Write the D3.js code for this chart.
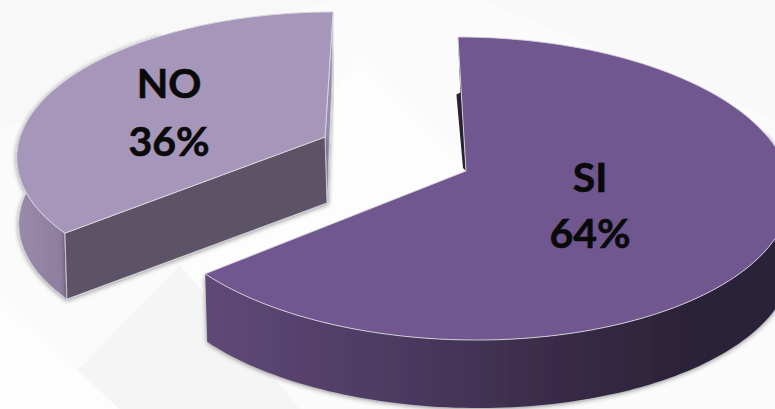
<!DOCTYPE html>
<html><head><meta charset="utf-8">
<script src="https://cdn.jsdelivr.net/npm/d3@7"></script>
<style>html,body{margin:0;padding:0;background:#fbfbfb;overflow:hidden}svg{display:block}</style>
</head><body><svg id="c" width="775" height="409"></svg>
<script>
const categories = ["SI", "NO"];
const values = [64, 36];
const labels = ["64%", "36%"];

const svg = d3.select("#c");
const defs = svg.append("defs");
const pie = d3.pie().sort(null).value(d => d);
const arcs = pie(values);

// perspective mapping of the unit disc onto the tilted plane of each slice
function projector(p) {
  return a => {
    const x = Math.sin(a), y = -Math.cos(a), w = 1 + p.k * y;
    return [p.cx + (p.A * x + p.C * y) / w, p.cy + p.B * y / w];
  };
}
const geom = [
  {cx:466, cy:171, A:321, B:149.5, C:9,  k:-0.1155, depth:68, a0:1.30},
  {cx:325, cy:137, A:305, B:139.6, C:-9, k:-0.1165, depth:66, a0:null}
];
const line = d3.line();
const sample = (a, b, n = 120) => d3.range(n + 1).map(i => a + (b - a) * i / n);

// background facets
const bg = svg.append("g");
bg.append("rect").attr("width",775).attr("height",409).attr("fill","#fbfbfb");
[
  {d:"M0,0H330L0,130Z", f:"#f8f8f8"},
  {d:"M360,60L470,170L200,409H60Z", f:"#fdfdfd"},
  {d:"M180,265L300,409H40Z", f:"#f5f5f5"},
  {d:"M480,0H775V120Z", f:"#f9f9f9"},
  {d:"M0,300L120,409H0Z", f:"#fdfdfd"}
].forEach(s => bg.append("path").attr("d", s.d).attr("fill", s.f));

const blur = defs.append("filter").attr("id","sh").attr("x","-10%").attr("y","-10%").attr("width","120%").attr("height","120%");
blur.append("feDropShadow").attr("dx",0).attr("dy",1).attr("stdDeviation",2.5).attr("flood-color","#000").attr("flood-opacity",.45);

const siGrad = defs.append("linearGradient").attr("id","siSide").attr("gradientUnits","userSpaceOnUse")
  .attr("x1",205).attr("x2",775).attr("y1",0).attr("y2",0);
[[0,"#5f4977"],[.3,"#4e3c63"],[.6,"#3a2c49"],[.85,"#2c2237"],[1,"#2c2237"]].forEach(s =>
  siGrad.append("stop").attr("offset",s[0]).attr("stop-color",s[1]));
const noGrad = defs.append("linearGradient").attr("id","noSide").attr("gradientUnits","userSpaceOnUse")
  .attr("x1",16).attr("x2",68).attr("y1",0).attr("y2",0);
[[0,"#9a8bab"],[1,"#8c7c9e"]].forEach(s => noGrad.append("stop").attr("offset",s[0]).attr("stop-color",s[1]));

const edge = "#d9d6de";

// ---------- NO ----------
{
  const a = arcs[1], g = geom[1], P = projector(g), apex = [g.cx, g.cy];
  const G = svg.append("g");
  const tip = P(a.startAngle), top = P(a.endAngle);
  const down = p => [p[0] + 2, p[1] + g.depth];
  const rim = sample(a.startAngle, a.startAngle + 1.6).map(P);
  G.append("path").attr("d", line([top, [top[0]-1, top[1]+70], down(apex), apex]) + "Z")
    .attr("fill","#9a8bae").attr("stroke",edge).attr("stroke-width",.8).attr("filter","url(#sh)");
  G.append("path").attr("d", line([...rim, ...rim.slice().reverse().map(down)]) + "Z")
    .attr("fill","url(#noSide)").attr("stroke",edge).attr("stroke-width",.8).attr("filter","url(#sh)");
  G.append("path").attr("d", line([tip, apex, down(apex), down(tip)]) + "Z")
    .attr("fill","#5c5366").attr("stroke",edge).attr("stroke-width",.8).attr("filter","url(#sh)");
  const outline = [apex, ...sample(a.startAngle, a.endAngle).map(P)];
  G.append("path").attr("d", line(outline) + "Z").attr("fill","#a596ba").attr("stroke",edge).attr("stroke-width",1);
}

// ---------- SI ----------
{
  const a = arcs[0], g = geom[0], P = projector(g), apex = [g.cx, g.cy];
  const G = svg.append("g");
  const down = p => [p[0] + 2, p[1] + g.depth];
  const rim = sample(g.a0, a.endAngle).map(P);
  const start = P(a.startAngle);
  const lerp = t => [start[0] + (apex[0]-start[0])*t, start[1] + (apex[1]-start[1])*t];
  const s1 = lerp(.43);
  G.append("path").attr("d", line([start, apex, [apex[0]-3, apex[1]-3], [s1[0]-5, s1[1]], [s1[0]-1, s1[1]-2]]) + "Z")
    .attr("fill","#2a2233");
  G.append("path").attr("d", line([...rim, ...rim.slice().reverse().map(down)]) + "Z")
    .attr("fill","url(#siSide)").attr("filter","url(#sh)");
  const outline = [apex, ...sample(a.startAngle, a.endAngle).map(P)];
  G.append("path").attr("d", line(outline) + "Z").attr("fill","#70578f").attr("stroke",edge).attr("stroke-width",.9);
}

// ---------- labels ----------
const labelPos = [{x:590, y1:192, y2:248}, {x:169, y1:98, y2:156}];
categories.forEach((c, i) => {
  const t = svg.append("text").attr("font-family","Lato, 'Open Sans', sans-serif").attr("font-weight",700)
    .attr("font-size",41).attr("text-anchor","middle").attr("fill","#0a0a0a")
    .attr("stroke","#0a0a0a").attr("stroke-width",.6);
  t.append("tspan").attr("x",labelPos[i].x).attr("y",labelPos[i].y1).text(c);
  t.append("tspan").attr("x",labelPos[i].x).attr("y",labelPos[i].y2).text(labels[i]);
});
</script></body></html>
